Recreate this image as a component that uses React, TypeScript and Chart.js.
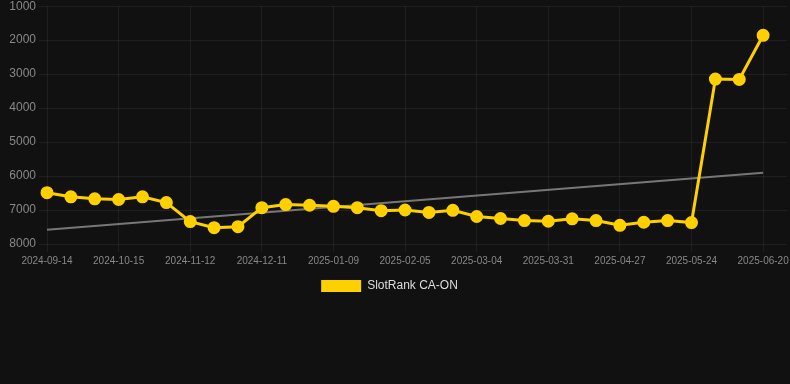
import React, { useEffect, useRef } from "react";
import { Chart, registerables } from "chart.js";

Chart.register(...registerables);

const dates: string[] = [
  "2024-09-14", "2024-09-24", "2024-10-05",
  "2024-10-15", "2024-10-24", "2024-11-03",
  "2024-11-12", "2024-11-22", "2024-12-01",
  "2024-12-11", "2024-12-21", "2024-12-30",
  "2025-01-09", "2025-01-18", "2025-01-27",
  "2025-02-05", "2025-02-14", "2025-02-23",
  "2025-03-04", "2025-03-13", "2025-03-22",
  "2025-03-31", "2025-04-09", "2025-04-18",
  "2025-04-27", "2025-05-06", "2025-05-15",
  "2025-05-24", "2025-06-02", "2025-06-11",
  "2025-06-20", "2025-06-29",
];

const rankValues: (number | null)[] = [
  6490, 6610, 6670, 6690, 6610, 6780,
  7340, 7520, 7490, 6930, 6840, 6860,
  6890, 6930, 7020, 7000, 7070, 7010,
  7190, 7250, 7310, 7330, 7260, 7310,
  7450, 7360, 7310, 7370, 3146, 3156,
  1857, null,
];

const trendStart = 7578;
const trendEnd = 5903;
const trendValues: (number | null)[] = dates.map((_, i) =>
  i === 0 ? trendStart : i === 30 ? trendEnd : null
);

const yTicks: number[] = [1000, 2000, 3000, 4000, 5000, 6000, 7000, 8000];

const FONT = "'Liberation Sans', Arial, Helvetica, sans-serif";

export default function App() {
  const ref = useRef<HTMLCanvasElement | null>(null);

  useEffect(() => {
    document.body.style.margin = "0";
    document.body.style.background = "#111111";
    if (!ref.current) return;
    const chart = new Chart(ref.current, {
      type: "line",
      data: {
        labels: dates,
        datasets: [
          {
            label: "SlotRank CA-ON",
            data: rankValues,
            borderColor: "#ffd000",
            backgroundColor: "#ffd000",
            borderWidth: 3,
            pointRadius: 5,
            pointBackgroundColor: "#ffd000",
            pointBorderColor: "#ffd000",
            tension: 0,
          },
          {
            label: "trend",
            data: trendValues,
            borderColor: "#777777",
            borderWidth: 2,
            pointRadius: 0,
            spanGaps: true,
            tension: 0,
          },
        ],
      },
      options: {
        animation: false,
        responsive: false,
        maintainAspectRatio: false,
        layout: { padding: { left: 0, right: 0, top: 0, bottom: 0 } },
        plugins: {
          legend: {
            position: "bottom",
            labels: {
              color: "#dddddd",
              font: { family: FONT, size: 12 },
              boxWidth: 40,
              boxHeight: 12,
              generateLabels: () => [
                {
                  text: "SlotRank CA-ON",
                  fillStyle: "#ffd000",
                  strokeStyle: "#ffd000",
                  lineWidth: 0,
                  hidden: false,
                  datasetIndex: 0,
                  fontColor: "#dddddd",
                },
              ],
            },
          },
          tooltip: { enabled: false },
        },
        scales: {
          x: {
            grid: { color: "rgba(255,255,255,0.06)" },
            border: { display: false },
            ticks: {
              autoSkip: false,
              maxRotation: 0,
              color: "#888888",
              font: { family: FONT, size: 10 },
              callback: (_v, i) => (i % 3 === 0 && i <= 30 ? dates[i] : null),
            },
          },
          y: {
            reverse: true,
            min: yTicks[0],
            max: yTicks[yTicks.length - 1],
            grid: { color: "rgba(255,255,255,0.06)" },
            border: { display: false },
            afterFit: (axis) => {
              axis.width = 63;
            },
            afterBuildTicks: (axis) => {
              axis.ticks = yTicks.map((v) => ({ value: v }));
            },
            ticks: {
              color: "#888888",
              font: { family: FONT, size: 12 },
              callback: (v) => String(v),
            },
          },
        },
      },
    });
    return () => chart.destroy();
  }, []);

  return (
    <div style={{ width: 790, height: 384, background: "#111111", overflow: "hidden", position: "relative" }}>
      <canvas
        ref={ref}
        width={811}
        height={306}
        style={{ display: "block", position: "absolute", left: -16, top: -4 }}
      />
    </div>
  );
}
